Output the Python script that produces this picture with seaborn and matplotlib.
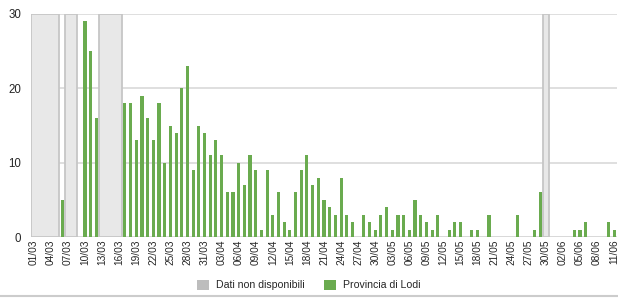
import matplotlib
matplotlib.use("Agg")
import matplotlib.pyplot as plt
from matplotlib.patches import Patch, Rectangle
from matplotlib.lines import Line2D
import seaborn as sns
import pandas as pd
import numpy as np

# Nuovi casi giornalieri, Provincia di Lodi (None = dato non disponibile)
dates = pd.date_range("2020-03-01", "2020-06-11").strftime("%d/%m").tolist()
cases = [None, None, None, None, None, 5, None, None, 0, 29, 25, 16,
         None, None, None, None,
         18, 18, 13, 19, 16, 13, 18, 10, 15, 14, 20, 23, 9, 15, 14, 11, 13, 11, 6, 6,
         10, 7, 11, 9, 1, 9, 3, 6, 2, 1, 6, 9, 11, 7, 8, 5, 4, 3, 8, 3, 2,
         0, 3, 2, 1, 3, 4, 1, 3, 3, 1, 5, 3, 2, 1, 3,
         0, 1, 2, 2, 0, 1, 1, 0, 3, 0, 0, 0, 0, 3, 0, 0, 1, 6,
         None,
         0, 0, 0, 0, 1, 1, 2, 0, 0, 0, 2, 1]
y_max = 30
tick_step = 3

green = "#6aab4f"
band_fill = "#e8e8e8"
band_edge = "#c6c6c6"
legend_grey = "#bdbdbd"

missing = np.array([c is None for c in cases])
df = pd.DataFrame({"data": dates,
                   "casi": [np.nan if c is None else c for c in cases]})
df["nd"] = np.where(missing, y_max, np.nan)

sns.set_style("white")
plt.rcParams["font.family"] = ["Liberation Sans", "DejaVu Sans"]

fig = plt.figure(figsize=(6.18, 2.98), dpi=100)
ax = fig.add_axes([31 / 618, 61 / 298, 586 / 618, 223 / 298])

# fasce grigie per i giorni senza dati
sns.barplot(data=df, x="data", y="nd", order=dates, color=band_fill, width=1,
            saturation=1, linewidth=0, errorbar=None, ax=ax, zorder=1)
i = 0
while i < len(missing):
    if missing[i]:
        j = i
        while j + 1 < len(missing) and missing[j + 1]:
            j += 1
        ax.add_patch(Rectangle((i - 0.5, 0), j - i + 1, y_max, fill=False,
                               edgecolor=band_edge, lw=1.3, zorder=2))
        i = j + 1
    else:
        i += 1

sns.barplot(data=df, x="data", y="casi", order=dates, color=green, width=0.55,
            saturation=1, linewidth=0, errorbar=None, ax=ax, zorder=3)

ax.set_xlim(-0.5, len(dates) - 0.5)
ax.set_ylim(0, y_max)
ax.set_yticks([0, 10, 20, 30])
ax.grid(axis="y", color="#dcdcdc", lw=1.3)
ax.grid(axis="x", visible=False)
ax.set_axisbelow(True)
for s in ax.spines.values():
    s.set_visible(False)
ax.axhline(0, color="#bbbbbb", lw=1.3, zorder=0)

ticks = list(range(0, len(dates), tick_step))
ax.set_xticks(ticks)
ax.set_xticklabels([dates[t] for t in ticks], rotation=90, fontsize=7.3)
ax.tick_params(axis="x", length=0, pad=2)
ax.tick_params(axis="y", length=0, pad=7, labelsize=8.3)
ax.set_xlabel("")
ax.set_ylabel("")

handles = [Patch(facecolor=legend_grey, edgecolor="none"),
           Patch(facecolor=green, edgecolor="none")]
fig.legend(handles, ["Dati non disponibili", "Provincia di Lodi"], loc="center",
           bbox_to_anchor=(0.5, 1 - 285 / 298), ncol=2, frameon=False,
           fontsize=7.6, handlelength=1.1, handleheight=1.1, columnspacing=1.8,
           handletextpad=0.7)

fig.add_artist(Line2D([0, 1], [0.006, 0.006], color="#cccccc", lw=1.5))

fig.savefig("out.png", dpi=100)
